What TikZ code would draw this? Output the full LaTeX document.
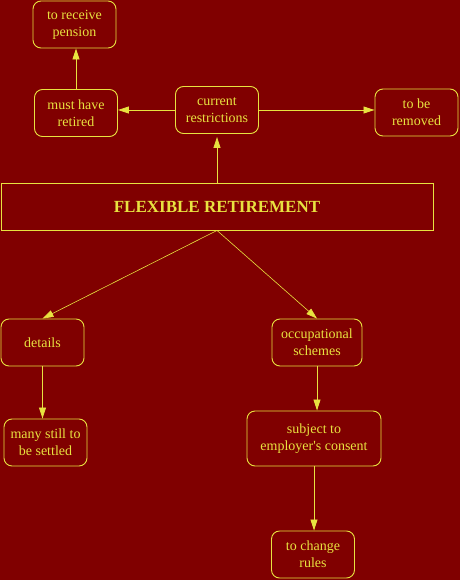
\documentclass[tikz,border=0pt]{standalone}
\usepackage{fontspec}
\setmainfont{Liberation Serif}
\usetikzlibrary{arrows.meta}
\definecolor{darkred}{RGB}{128,0,0}
\definecolor{paleyellow}{RGB}{232,226,64}

\begin{document}
\begin{tikzpicture}[
  x=1pt, y=-1pt,
  roundbox/.style={rectangle, rounded corners=8pt, draw=paleyellow,
                   text=paleyellow, line width=0.9pt, align=center,
                   minimum width=83pt, minimum height=47pt, inner sep=2pt,
                   font=\fontsize{14}{17}\selectfont},
  titlebox/.style={rectangle, draw=paleyellow, text=paleyellow,
                   line width=0.9pt, minimum width=432pt, minimum height=47pt,
                   font=\fontsize{17}{20}\selectfont\bfseries},
  link/.style={draw=paleyellow, line width=0.8pt,
               -{Triangle[length=11pt, width=7pt]}}
]
  \fill[darkred] (0,0) rectangle (460,580);
  \useasboundingbox (0,0) rectangle (460,580);

  \node[titlebox] (flex) at (217, 206.5) {FLEXIBLE RETIREMENT};

  \node[roundbox] (restrict) at (217, 110) {current\\restrictions};
  \node[roundbox] (retired)  at (76, 113) {must have\\retired};
  \node[roundbox] (pension)  at (74.5, 24.5) {to receive\\pension};
  \node[roundbox] (removed)  at (416.5, 112.5) {to be\\removed};

  \node[roundbox] (details) at (42.5, 342.5) {details};
  \node[roundbox] (settled) at (45.5, 442.5) {many still to\\be settled};
  \node[roundbox, minimum width=90pt] (schemes) at (317, 342.5)
       {occupational\\schemes};
  \node[roundbox, minimum width=134pt, minimum height=55pt] (consent)
       at (314, 438.5) {subject to\\employer\textquotesingle s consent};
  \node[roundbox] (rules) at (313, 554.5) {to change\\rules};

  \draw[link, shorten >=3pt] (flex.north) -- (restrict.south);
  \draw[link] (restrict.west) -- (restrict.west -| retired.east);
  \draw[link] (restrict.east) -- (restrict.east -| removed.west);
  \draw[link] (retired.north) -- (retired.north |- pension.south);

  \draw[link, line width=0.6pt] (flex.south) -- (details.north);
  \draw[link, line width=0.6pt] (flex.south) -- (schemes.north);
  \draw[link] (details.south) -- (details.south |- settled.north);
  \draw[link] (schemes.south) -- (schemes.south |- consent.north);
  \draw[link] (consent.south) -- (consent.south |- rules.north);
\end{tikzpicture}
\end{document}
